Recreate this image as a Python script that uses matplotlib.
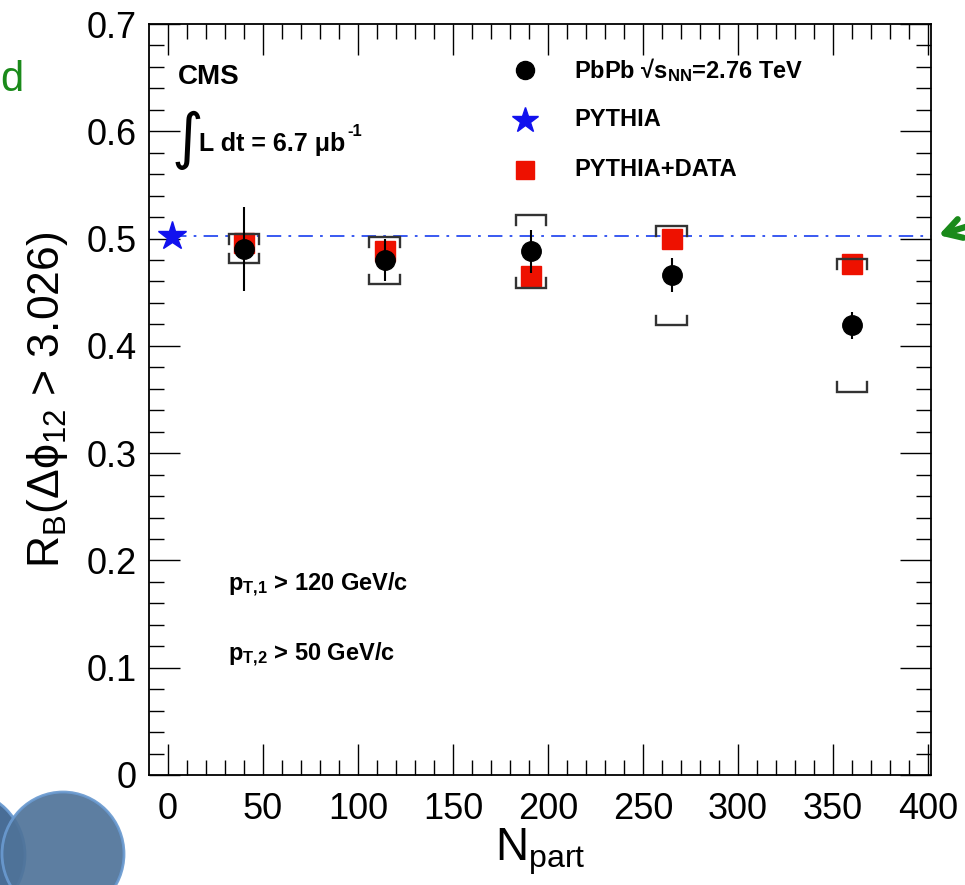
import matplotlib
matplotlib.use("Agg")
import matplotlib.pyplot as plt
from matplotlib.patches import Ellipse, FancyArrowPatch
import numpy as np

# ---- data ----
npart = [40, 114, 191, 265, 360]
rb_data = [0.490, 0.480, 0.488, 0.466, 0.419]
rb_stat = [0.039, 0.020, 0.020, 0.016, 0.013]
sys_hi = [0.504, 0.501, 0.522, 0.5115, 0.481]
sys_lo = [0.477, 0.4575, 0.454, 0.419, 0.357]
rb_pythia_data = [0.496, 0.488, 0.465, 0.500, 0.476]
pythia_x = [2]
pythia_y = [0.502]
xticks = [0, 50, 100, 150, 200, 250, 300, 350, 400]
yticks = [0, 0.1, 0.2, 0.3, 0.4, 0.5, 0.6, 0.7]

plt.rcParams['font.family'] = ['Liberation Sans', 'DejaVu Sans']
plt.rcParams['mathtext.fontset'] = 'custom'
plt.rcParams['mathtext.rm'] = 'Liberation Sans'
plt.rcParams['mathtext.bf'] = 'Liberation Sans:bold'
plt.rcParams['mathtext.it'] = 'Liberation Sans:italic'

W, H = 965, 885
fig = plt.figure(figsize=(W / 100, H / 100), dpi=100)
L, R, T, B = 149, 931, 24, 775
ax = fig.add_axes([L / W, 1 - B / H, (R - L) / W, (B - T) / H])
ax.set_xlim(-10, 401.5)
ax.set_ylim(0, 0.7)

def axpos(px, py):
    return ((px - L) / (R - L), (B - py) / (B - T))

# PYTHIA reference line
ax.plot([pythia_x[0], 401.5], [pythia_y[0], pythia_y[0]], color='#2a4cf0', lw=1.3,
        dashes=[8, 4, 1.5, 4], zorder=2)
ax.plot(pythia_x, pythia_y, marker='*', ms=21, color='#1111ee', ls='none',
        mec='#1111ee', zorder=4, clip_on=False)

# red squares
ax.plot(npart, rb_pythia_data, marker='s', ms=14.5, color='#ee1100', ls='none',
        mec='#ee1100', zorder=3)

# systematic brackets
hw = 8.0
arm = 0.009
for x, hi, lo in zip(npart, sys_hi, sys_lo):
    ax.plot([x - hw, x - hw, x + hw, x + hw], [hi - arm, hi, hi, hi - arm],
            color='#333333', lw=1.7, zorder=5, solid_joinstyle='miter')
    ax.plot([x - hw, x - hw, x + hw, x + hw], [lo + arm, lo, lo, lo + arm],
            color='#333333', lw=1.7, zorder=5, solid_joinstyle='miter')

# data points
ax.errorbar(npart, rb_data, yerr=rb_stat, fmt='o', ms=14, color='black',
            ecolor='black', elinewidth=1.5, capsize=0, zorder=6)

# ticks
ax.set_xticks(xticks)
ax.set_yticks(yticks)
ax.set_xticklabels([str(v) for v in xticks])
ax.set_yticklabels(['0'] + ['%.1f' % v for v in yticks[1:]])
ax.set_xticks(np.arange(0, 401, 10), minor=True)
ax.set_yticks(np.arange(0, 0.701, 0.02), minor=True)
ax.tick_params(which='both', direction='in', top=True, right=True, width=1.0,
               labelsize=26, colors='black')
ax.tick_params(which='major', length=22)
ax.tick_params(axis='x', which='major', pad=12)
ax.tick_params(axis='y', which='major', pad=9)
ax.tick_params(which='minor', length=11)
for s in ax.spines.values():
    s.set_linewidth(1.3)

ax.set_ylabel(r'R$_\mathregular{B}$(Δϕ$_\mathregular{12}$ > 3.026)', fontsize=32, labelpad=12)
ax.set_xlabel(r'N$_\mathregular{part}$', fontsize=33, labelpad=0)

# texts
ax.text(*axpos(178, 77), 'CMS', transform=ax.transAxes, fontsize=20,
        fontweight='bold', va='center', ha='left')
ax.text(*axpos(172, 140), '∫', transform=ax.transAxes, fontsize=44,
        family='DejaVu Sans', va='center', ha='left')
ax.text(*axpos(199, 144), 'L dt = 6.7 μb', transform=ax.transAxes,
        fontsize=18, fontweight='bold', va='center', ha='left')
ax.text(*axpos(347, 131), '-1', transform=ax.transAxes,
        fontsize=12, fontweight='bold', va='center', ha='left')
ax.text(*axpos(228, 585), r'p$_{\mathbf{T{,}1}}$ > 120 GeV/c', transform=ax.transAxes,
        fontsize=17, fontweight='bold', va='center', ha='left')
ax.text(*axpos(228, 655), r'p$_{\mathbf{T{,}2}}$ > 50 GeV/c', transform=ax.transAxes,
        fontsize=17, fontweight='bold', va='center', ha='left')

# legend (manual)
leg_rows = [70, 120, 170]
leg_labels = [r'PbPb √$\mathbf{s}_{\mathbf{NN}}$=2.76 TeV', 'PYTHIA', 'PYTHIA+DATA']
leg_style = [dict(marker='o', ms=13, color='black', mec='black'),
             dict(marker='*', ms=19, color='#1111ee', mec='#1111ee'),
             dict(marker='s', ms=13.5, color='#ee1100', mec='#ee1100')]
for py, lab, st in zip(leg_rows, leg_labels, leg_style):
    mx, my = axpos(525, py)
    ax.plot([mx], [my], transform=ax.transAxes, ls='none', clip_on=False, zorder=7, **st)
    tx, ty = axpos(574, py)
    ax.text(tx, ty, lab, transform=ax.transAxes, fontsize=17, fontweight='bold',
            va='center', ha='left')

# slide decorations
fig.text(0 / W, 1 - 80 / H, 'd', fontsize=30, color='#1a8a1a', va='center', ha='left')
fig.add_artist(Ellipse((-40 / W, 1 - 855 / H), 130 / W, 130 / H, transform=fig.transFigure,
                       facecolor='#3f6591', edgecolor='#6a9ad0', lw=2, alpha=0.95))
fig.add_artist(Ellipse((63 / W, 1 - 854 / H), 122 / W, 124 / H, transform=fig.transFigure,
                       facecolor='#4f7399', edgecolor='#6a9ad0', lw=2, alpha=0.92))
fig.add_artist(FancyArrowPatch(
    (985 / W, 1 - 221 / H), (936 / W, 1 - 236 / H), transform=fig.transFigure,
    arrowstyle='->,head_length=12,head_width=7', color='#1a8a1a', lw=4.5,
    mutation_scale=1, capstyle='round', joinstyle='round'))

fig.savefig('out.png', dpi=100)
